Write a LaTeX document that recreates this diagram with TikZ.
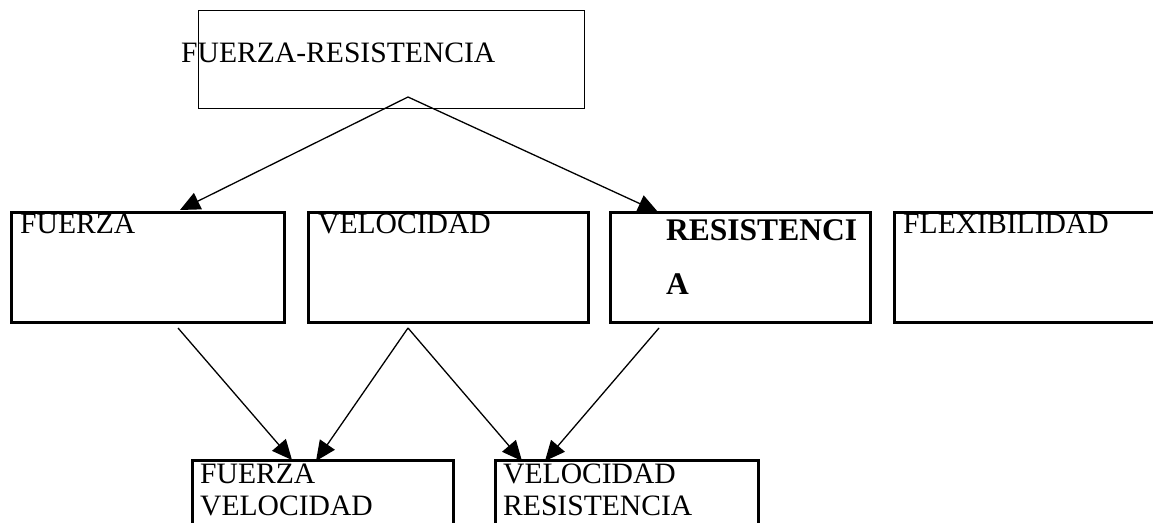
\documentclass[tikz,border=0pt]{standalone}
\usepackage{fontspec}
\setmainfont{Liberation Serif}
\usetikzlibrary{arrows.meta,positioning}

\begin{document}
\begin{tikzpicture}[
    x = 1pt, y = -1pt,
    > = {Triangle[length=20pt,width=18pt]},
    flecha/.style={->, line width=1.3pt},
    caja/.style={draw, line width=3pt, inner sep=0pt, anchor=north west, minimum height=110pt, minimum width=#1},
    cajafina/.style={draw, line width=1.3pt, inner sep=0pt, anchor=north west, minimum height=98pt, minimum width=#1},
    texto/.style={anchor=base west, inner sep=0pt, align=left, font=\fontsize{29.6}{32}\selectfont},
    negrita/.style={anchor=base west, inner sep=0pt, align=left, font=\fontsize{31.5}{54}\selectfont\bfseries}
]
    \path[use as bounding box, clip] (0,0) rectangle (1153,522);

    % cajas
    \node[cajafina=386pt] (fr) at (198,10) {};
    \node[caja=273pt] (fuerza) at (10,210.5) {};
    \node[caja=280pt] (vel) at (306.5,210.5) {};
    \node[caja=260pt] (res) at (608.5,210.5) {};
    \node[caja=280pt] (flex) at (892.5,210.5) {};
    \node[caja=261pt, minimum height=100pt] (fv) at (190.5,458.5) {};
    \node[caja=263pt, minimum height=100pt] (vr) at (493.5,458.5) {};

    % textos (base = ultima linea)
    \node[texto] (t-fr) at (181,62) {FUERZA-RESISTENCIA};
    \node[texto] (t-fuerza) at (20,233) {FUERZA};
    \node[texto] (t-vel) at (318,233) {VELOCIDAD};
    \node[negrita] (t-res) at (666,294) {RESISTENCI\\A};
    \node[texto] (t-flex) at (903,233) {FLEXIBILIDAD};
    \node[texto] (t-fv) at (200,515) {FUERZA\\VELOCIDAD};
    \node[texto] (t-vr) at (503,515) {VELOCIDAD\\RESISTENCIA};

    % puntos de las flechas
    \coordinate (fr-out) at (408,97);
    \coordinate (fuerza-in) at (180,210);
    \coordinate (res-in) at (658,212);
    \coordinate (fuerza-out) at (178,328);
    \coordinate (vel-out) at (408,328);
    \coordinate (res-out) at (659,328);
    \coordinate (fv-in1) at (292,460);
    \coordinate (fv-in2) at (316,461);
    \coordinate (vr-in1) at (522,461);
    \coordinate (vr-in2) at (545,461);

    \path[flecha]
        (fr-out) edge (fuerza-in)
        (fr-out) edge (res-in)
        (fuerza-out) edge (fv-in1)
        (vel-out) edge (fv-in2)
        (vel-out) edge (vr-in1)
        (res-out) edge (vr-in2);
\end{tikzpicture}
\end{document}
